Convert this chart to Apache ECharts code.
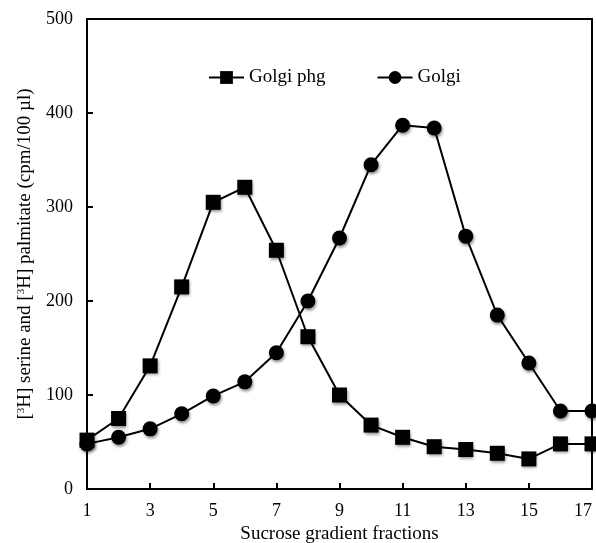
<!DOCTYPE html>
<html>
<head>
<meta charset="utf-8">
<script src="https://cdn.jsdelivr.net/npm/echarts@6/dist/echarts.min.js"></script>
<style>html,body{margin:0;padding:0;background:#fff;}#c{width:596px;height:543px;}</style>
</head>
<body>
<div id="c"></div>
<script>
var fractions = ['1','2','3','4','5','6','7','8','9','10','11','12','13','14','15','16','17'];
var golgiPhg = [52, 75, 131, 215, 305, 321, 254, 162, 100, 68, 55, 45, 42, 38, 32, 48, 48];
var golgi = [48, 55, 64, 80, 99, 114, 145, 200, 267, 345, 387, 384, 269, 185, 134, 83, 83];
var yTicks = [0, 100, 200, 300, 400, 500];

var font = '"Liberation Serif", "Times New Roman", serif';
var chart = echarts.init(document.getElementById('c'), null, {renderer: 'canvas'});
var markerStyle = {color: '#000', shadowBlur: 3, shadowColor: 'rgba(0,0,0,0.45)', shadowOffsetX: 1, shadowOffsetY: 2};
chart.setOption({
  animation: false,
  backgroundColor: '#fff',
  grid: {left: 87, right: 4, top: 19, bottom: 54, show: true, borderColor: '#000', borderWidth: 2,
    containLabel: false, outerBoundsMode: 'none'},
  legend: {
    top: 63, left: 203, itemGap: 51, itemWidth: 35, itemHeight: 16,
    textStyle: {fontFamily: font, fontSize: 19, color: '#000'},
    data: ['Golgi phg', 'Golgi']
  },
  xAxis: {
    type: 'category', data: fractions, boundaryGap: false,
    name: 'Sucrose gradient fractions', nameLocation: 'middle', nameGap: 36,
    nameTextStyle: {fontFamily: font, fontSize: 19, color: '#000'},
    axisLine: {lineStyle: {color: '#000', width: 2}},
    axisTick: {inside: true, length: 6, interval: 1, lineStyle: {color: '#000', width: 2}},
    axisLabel: {interval: 1, margin: 13, fontFamily: font, fontSize: 18, color: '#000', alignMaxLabel: 'right'},
    splitLine: {show: false}
  },
  yAxis: {
    type: 'value', min: yTicks[0], max: yTicks[yTicks.length - 1], interval: 100,
    name: '[{s|3}H] serine and [{s|3}H] palmitate (cpm/100 µl)', nameLocation: 'middle', nameGap: 52,
    nameTextStyle: {fontFamily: font, fontSize: 19, color: '#000',
      rich: {s: {fontFamily: font, fontSize: 11, color: '#000', verticalAlign: 'top', padding: [0, 0, 7, 0]}}},
    axisLine: {show: true, lineStyle: {color: '#000', width: 2}},
    axisTick: {show: true, inside: true, length: 6, lineStyle: {color: '#000', width: 2}},
    axisLabel: {margin: 14, fontFamily: font, fontSize: 18, color: '#000'},
    splitLine: {show: false}
  },
  series: [
    {name: 'Golgi phg', type: 'line', data: golgiPhg, symbol: 'rect', symbolSize: 15,
      lineStyle: {color: '#000', width: 2}, itemStyle: markerStyle},
    {name: 'Golgi', type: 'line', data: golgi, symbol: 'circle', symbolSize: 15,
      lineStyle: {color: '#000', width: 2}, itemStyle: markerStyle}
  ]
});
</script>
</body>
</html>
